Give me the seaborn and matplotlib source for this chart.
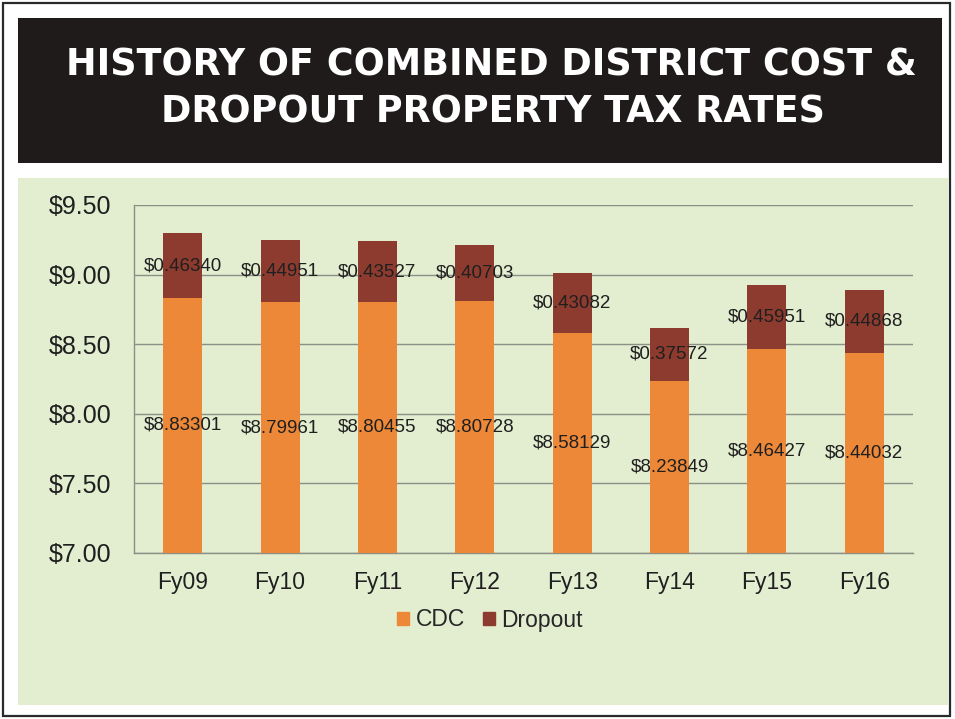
import matplotlib
matplotlib.use("Agg")
import matplotlib.pyplot as plt
import matplotlib.patches as mpatches
import seaborn as sns
import pandas as pd

# Fiscal years and the two tax-rate components ($ per $100 valuation)
years = ["Fy09", "Fy10", "Fy11", "Fy12", "Fy13", "Fy14", "Fy15", "Fy16"]
cdc = [8.83301, 8.79961, 8.80455, 8.80728, 8.58129, 8.23849, 8.46427, 8.44032]
dropout = [0.46340, 0.44951, 0.43527, 0.40703, 0.43082, 0.37572, 0.45951, 0.44868]
y_ticks = [7.00, 7.50, 8.00, 8.50, 9.00, 9.50]

CDC_COLOR = "#EC8838"
DROP_COLOR = "#8E3B2F"
PANEL = "#E3EDD0"
TXT = "#1f1f1f"
GRID = "#8a9085"

df = pd.DataFrame({"year": years, "cdc": cdc, "dropout": dropout})
df["total"] = df["cdc"] + df["dropout"]

sns.set_theme(style="white")
plt.rcParams["font.family"] = ["Liberation Sans", "DejaVu Sans"]

W, H = 955, 719
fig = plt.figure(figsize=(W / 100, H / 100), dpi=100)
fig.patch.set_facecolor("white")


def px_rect(x0, y0, x1, y1, **kw):
    return mpatches.Rectangle((x0 / W, 1 - y1 / H), (x1 - x0) / W, (y1 - y0) / H,
                              transform=fig.transFigure, figure=fig, zorder=-5, **kw)


# outer frame, title banner and green chart panel
fig.patches.append(px_rect(3, 3, 950, 716, facecolor="none", edgecolor="#2a2a2a", lw=1.6))
fig.patches.append(px_rect(18, 18, 942, 163, facecolor="#1f1b1b", edgecolor="none"))
fig.patches.append(px_rect(18, 178, 948, 705, facecolor=PANEL, edgecolor="none"))

title_kw = dict(color="white", ha="center", va="center", fontsize=26.3,
                family="DejaVu Sans", fontweight="bold")
fig.text(491 / W, 1 - 65 / H, "HISTORY OF COMBINED DISTRICT COST &", **title_kw)
fig.text(493 / W, 1 - 112 / H, "DROPOUT PROPERTY TAX RATES", **title_kw)

ax = fig.add_axes([134 / W, 1 - 553 / H, (913 - 134) / W, (553 - 205) / H])
ax.set_facecolor("none")

# stacked bars: full height in the dropout colour, CDC portion drawn over it
sns.barplot(data=df, x="year", y="total", color=DROP_COLOR, width=0.4,
            saturation=1, linewidth=0, ax=ax, zorder=3)
sns.barplot(data=df, x="year", y="cdc", color=CDC_COLOR, width=0.4,
            saturation=1, linewidth=0, ax=ax, zorder=4)

ymin, ymax = 7.0, 9.5
ax.set_ylim(ymin, ymax)
ax.set_xlim(-0.5, len(years) - 0.5)
ax.set_yticks(y_ticks)
ax.set_yticklabels([f"${v:.2f}" for v in y_ticks])
ax.set_xlabel("")
ax.set_ylabel("")

ax.yaxis.grid(True, color=GRID, lw=1.0, zorder=1)
ax.set_axisbelow(True)
ax.tick_params(axis="y", length=7, color=GRID, labelsize=18, labelcolor=TXT, pad=9)
ax.set_xticks(range(len(years)))
ax.set_xticklabels(years)
ax.tick_params(axis="x", which="major", length=0, labelsize=16.5, labelcolor=TXT, pad=13)
ax.set_xticks([i - 0.5 for i in range(len(years) + 1)], minor=True)
ax.tick_params(axis="x", which="minor", length=5, color=GRID)

for side in ["top", "right"]:
    ax.spines[side].set_visible(False)
for side in ["left", "bottom"]:
    ax.spines[side].set_color(GRID)
    ax.spines[side].set_linewidth(1.0)

# value labels centred in each visible segment
for i, (c, d) in enumerate(zip(cdc, dropout)):
    ax.text(i, (ymin + c) / 2, f"${c:.5f}", ha="center", va="center",
            fontsize=13.5, color=TXT, zorder=6)
    ax.text(i, c + d / 2, f"${d:.5f}", ha="center", va="center",
            fontsize=13.5, color=TXT, zorder=6)

handles = [mpatches.Patch(color=CDC_COLOR, label="CDC"),
           mpatches.Patch(color=DROP_COLOR, label="Dropout")]
fig.legend(handles=handles, loc="center", bbox_to_anchor=(490 / W, 1 - 620 / H),
           ncol=2, frameon=False, fontsize=16.5, handlelength=0.52, handleheight=0.52,
           handletextpad=0.28, columnspacing=0.8)

fig.savefig("out.png", dpi=100, facecolor=fig.get_facecolor())
